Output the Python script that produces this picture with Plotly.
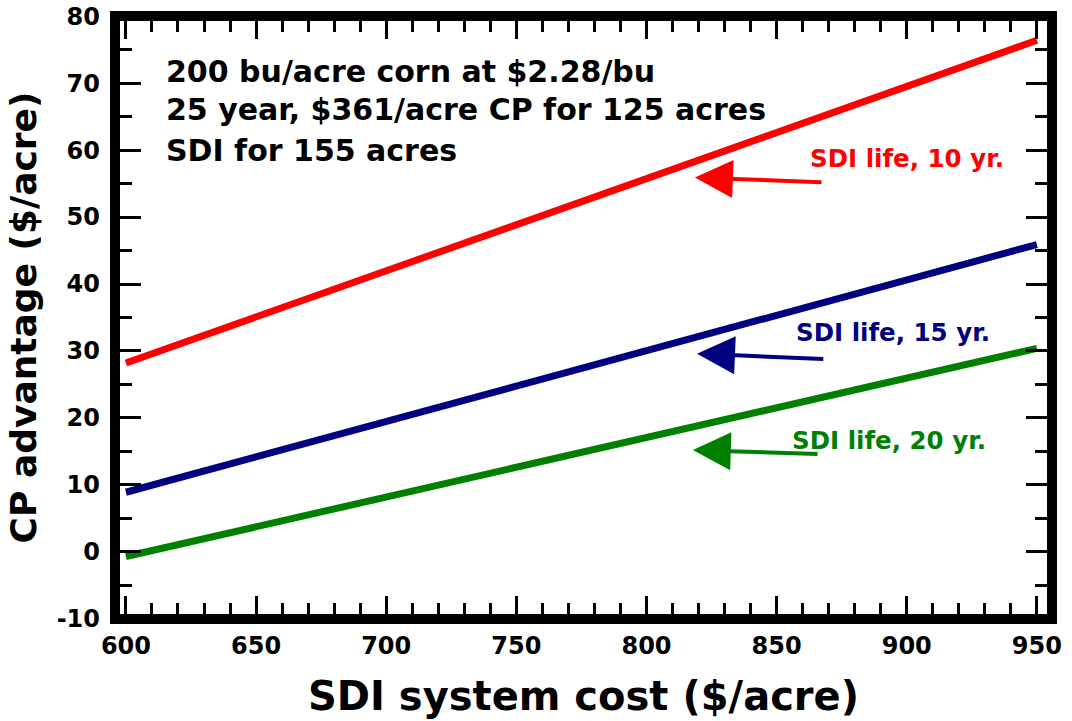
import plotly.graph_objects as go

# ---- data ----
sdi_cost = [600, 950]                 # SDI system cost ($/acre)
life_10yr = [28.2, 76.4]              # CP advantage ($/acre)
life_15yr = [8.9, 45.9]
life_20yr = [-0.7, 30.4]
series_names = ["SDI life, 10 yr.", "SDI life, 15 yr.", "SDI life, 20 yr."]
note_lines = ["200 bu/acre corn at $2.28/bu",
              "25 year, $361/acre CP for 125 acres",
              "SDI for 155 acres"]
x_ticks = [600, 650, 700, 750, 800, 850, 900, 950]
y_ticks = [-10, 0, 10, 20, 30, 40, 50, 60, 70, 80]
y_tick_labels = ["-10", "0", "10", "20", "30", "40", "50", "60", "70", "80"]
x_title = "SDI system cost ($/acre)"
y_title = "CP advantage ($/acre)"

colors = ["#FF0000", "#000080", "#008000"]
FONT = "DejaVu Sans"

fig = go.Figure()
for vals, name, col in zip([life_10yr, life_15yr, life_20yr], series_names, colors):
    fig.add_trace(go.Scatter(x=sdi_cost, y=vals, mode="lines", name=name,
                             line=dict(color=col, width=7), showlegend=False))

tickfont = dict(family=FONT, size=24, color="black", weight=700)

fig.update_xaxes(range=[595.8, 955.8], tickmode="array", tickvals=x_ticks,
                 ticks="inside", ticklen=23, tickwidth=3, tickcolor="black",
                 minor=dict(ticks="inside", ticklen=16, tickwidth=3, dtick=10, tick0=600,
                            tickcolor="black"),
                 mirror="ticks", showline=False, showgrid=False, zeroline=False,
                 automargin=False,
                 tickfont=tickfont, ticklabelstandoff=10,
                 title=dict(text=x_title, font=dict(family=FONT, size=40, color="black", weight=700),
                            standoff=22))
fig.update_yaxes(range=[-10.03, 80.03], tickmode="array", tickvals=y_ticks, ticktext=y_tick_labels,
                 ticks="inside", ticklen=26, tickwidth=3, tickcolor="black",
                 minor=dict(ticks="inside", ticklen=17, tickwidth=3, dtick=5, tick0=0,
                            tickcolor="black"),
                 mirror="ticks", showline=False, showgrid=False, zeroline=False,
                 automargin=False, ticklabeloverflow="allow",
                 tickfont=tickfont, ticklabelstandoff=14,
                 title=dict(text=y_title, font=dict(family=FONT, size=36, color="black", weight=700),
                            standoff=9))

annotations = []
# note text block (top-left)
note_y = [71.8, 66.1, 60.0]
for line, yy in zip(note_lines, note_y):
    annotations.append(dict(x=614.5, y=yy, xref="x", yref="y", text=line, showarrow=False,
                            xanchor="left", yanchor="middle",
                            font=dict(family=FONT, size=30, color="black", weight=700)))

# series labels
label_pos = [(862.0, 58.8), (856.8, 32.8), (855.3, 16.6)]
for name, (lx, ly), col in zip(series_names, label_pos, colors):
    annotations.append(dict(x=lx, y=ly, xref="x", yref="y", text=name, showarrow=False,
                            xanchor="left", yanchor="middle",
                            font=dict(family=FONT, size=24.5, color=col, weight=700)))

# arrows pointing to the lines
arrow_pos = [((818.6, 55.9), (867.8, 55.2)),
             ((819.4, 29.6), (868.5, 28.8)),
             ((817.8, 15.2), (866.3, 14.6))]
for (tip, tail), col in zip(arrow_pos, colors):
    annotations.append(dict(x=tip[0], y=tip[1], ax=tail[0], ay=tail[1],
                            xref="x", yref="y", axref="x", ayref="y",
                            text="", showarrow=True, arrowhead=2, arrowsize=1.9,
                            arrowwidth=4, arrowcolor=col, standoff=0))

fig.update_layout(
    width=1072, height=721,
    margin=dict(l=115, r=20, t=16, b=102, autoexpand=False),
    paper_bgcolor="white", plot_bgcolor="white",
    annotations=annotations,
    shapes=[dict(type="rect", xref="paper", yref="paper", x0=0, y0=0, x1=1, y1=1,
                 line=dict(color="black", width=10), fillcolor="rgba(0,0,0,0)", layer="above")],
)

# remove the default 8px page margin so the figure fills the window exactly
fig.write_html("out.html", config={"displayModeBar": False},
               post_script="document.body.style.margin='0';document.body.style.overflow='hidden';")
